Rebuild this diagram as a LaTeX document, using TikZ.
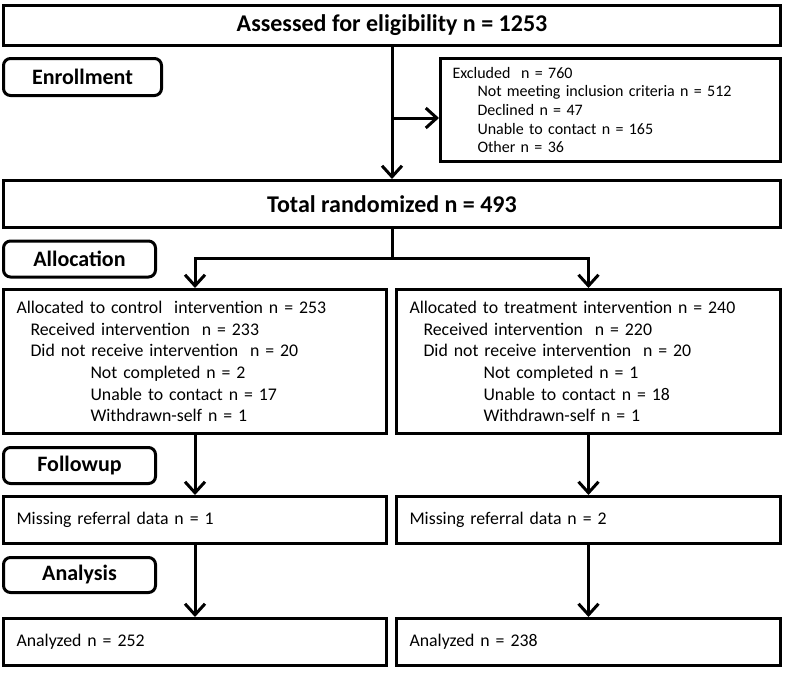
\documentclass[tikz,border=0pt]{standalone}
\usepackage{fontspec}
\setmainfont{Carlito}
\usetikzlibrary{arrows.meta}

\newcommand{\headfont}{\fontsize{24}{28}\selectfont\bfseries}
\newcommand{\phasefont}{\fontsize{22}{26}\selectfont\bfseries}
\newcommand{\bodyfont}{\fontsize{17.8}{21.7}\selectfont}
\newcommand{\exclfont}{\fontsize{16}{18.6}\selectfont}

\tikzset{
  headbox/.style={draw, line width=3pt, inner sep=0pt, font=\headfont},
  phase/.style={draw, line width=3pt, rounded corners=7pt, inner sep=0pt,
    font=\phasefont, minimum width=152pt, minimum height=36pt},
  textbox/.style={draw, line width=3pt, inner ysep=0pt, inner xsep=13pt,
    align=left, font=\bodyfont, text width=357pt},
  arr/.style={line width=3pt, -{Straight Barb[length=11pt,width=20pt]}},
}

\begin{document}
\begin{tikzpicture}[x=1pt,y=-1pt]
\useasboundingbox (0,0) rectangle (787,672);

% enrollment
\node[headbox, minimum width=777pt, minimum height=40pt] (assess) at (392,25.5)
  {Assessed for eligibility n = 1253};
\node[phase, minimum width=158pt, minimum height=37pt] (enrol) at (82.5,77) {Enrollment};
\node[textbox, font=\exclfont, inner xsep=12pt, text width=316pt,
  minimum height=103pt] (excl) at (610.5,110)
  {Excluded\ \ n = 760\\
   \hspace*{25pt}Not meeting inclusion criteria n = 512\\
   \hspace*{25pt}Declined n = 47\\
   \hspace*{25pt}Unable to contact n = 165\\
   \hspace*{25pt}Other n = 36};
\node[headbox, minimum width=777pt, minimum height=47pt] (rand) at (392,204)
  {Total randomized n = 493};

% allocation
\node[phase] (alloc) at (79.5,259) {Allocation};
\node[textbox, minimum height=144pt] (ctrl) at (195,361.5)
  {Allocated to control~~intervention n = 253\\
   \hspace*{14pt}Received intervention\ \ n = 233\\
   \hspace*{14pt}Did not receive intervention\ \ n = 20\\
   \hspace*{74pt}Not completed n = 2\\
   \hspace*{74pt}Unable to contact n = 17\\
   \hspace*{74pt}Withdrawn-self n = 1};
\node[textbox, text width=358pt, minimum height=144pt] (trt) at (588.5,361.5)
  {Allocated to treatment intervention n = 240\\
   \hspace*{14pt}Received intervention\ \ n = 220\\
   \hspace*{14pt}Did not receive intervention\ \ n = 20\\
   \hspace*{74pt}Not completed n = 1\\
   \hspace*{74pt}Unable to contact n = 18\\
   \hspace*{74pt}Withdrawn-self n = 1};

% followup
\node[phase] (follow) at (79.5,465.5) {Followup};
\node[textbox, minimum height=47pt] (miss1) at (195,520) {Missing referral data n = 1};
\node[textbox, text width=358pt, minimum height=47pt] (miss2) at (588.5,520)
  {Missing referral data n = 2};

% analysis
\node[phase, minimum height=35pt] (anal) at (79.5,575) {Analysis};
\node[textbox, minimum height=47pt] (anz1) at (195,642) {Analyzed n = 252};
\node[textbox, text width=358pt, minimum height=47pt] (anz2) at (588.5,642)
  {Analyzed n = 238};

% connectors
\coordinate (split) at (392,118);
\coordinate (fork) at (392,258);
\draw[arr] (assess.south) -- (rand.north);
\draw[arr] (split) -- (split -| excl.west);
\draw[line width=3pt] (rand.south) -- (fork);
\draw[arr] (fork) -| (ctrl.north);
\draw[arr] (fork) -| (trt.north);
\draw[arr] (ctrl.south) -- (miss1.north);
\draw[arr] (trt.south) -- (miss2.north);
\draw[arr] (miss1.south) -- (anz1.north);
\draw[arr] (miss2.south) -- (anz2.north);
\end{tikzpicture}
\end{document}
